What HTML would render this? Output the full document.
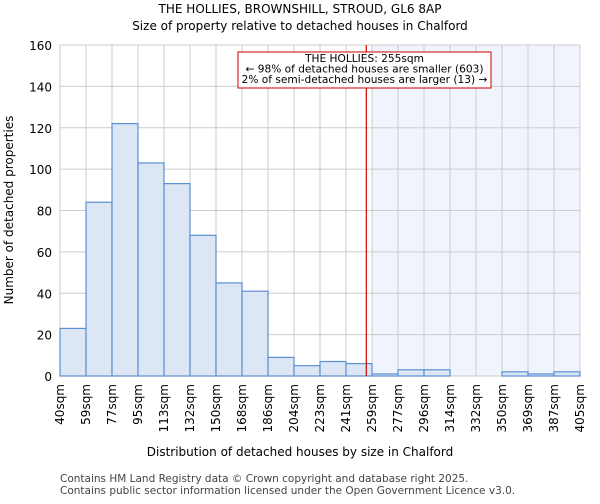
<!DOCTYPE html>
<html><head><meta charset="utf-8"><style>
body{margin:0;background:#fff;font-family:"DejaVu Sans","Liberation Sans",sans-serif;}
</style></head><body>
<svg id="chart" width="600" height="500" xmlns="http://www.w3.org/2000/svg">
<text x="300" y="13" text-anchor="middle" font-size="12">THE HOLLIES, BROWNSHILL, STROUD, GL6 8AP</text>
<text x="300" y="30" text-anchor="middle" font-size="12">Size of property relative to detached houses in Chalford</text>
<g id="plot"></g>
<text x="300" y="456" text-anchor="middle" font-size="12">Distribution of detached houses by size in Chalford</text>
<text transform="translate(13,210) rotate(-90)" text-anchor="middle" font-size="12">Number of detached properties</text>
<text x="60" y="482" font-size="10.5" fill="#444">Contains HM Land Registry data © Crown copyright and database right 2025.</text>
<text x="60" y="494" font-size="10.5" fill="#444">Contains public sector information licensed under the Open Government Licence v3.0.</text>
</svg>
<script>
const categories=["40sqm","59sqm","77sqm","95sqm","113sqm","132sqm","150sqm","168sqm","186sqm","204sqm","223sqm","241sqm","259sqm","277sqm","296sqm","314sqm","332sqm","350sqm","369sqm","387sqm","405sqm"];
const counts=[23,84,122,103,93,68,45,41,9,5,7,6,1,3,3,0,0,2,1,2];
const yTicks=[0,20,40,60,80,100,120,140,160];
const binStart=40, binWidth=18.25, propertySize=255;
const X0=60,X1=580,Y0=376,Y1=45,ns="http://www.w3.org/2000/svg";
const g=document.getElementById('plot');
const bw=(X1-X0)/counts.length;
const xi=i=>X0+i*bw;
const xv=v=>X0+(v-binStart)/binWidth*bw;
const y=v=>Y0-(v/160)*(Y0-Y1);
function mk(t,a){const e=document.createElementNS(ns,t);for(const k in a)e.setAttribute(k,a[k]);g.appendChild(e);return e;}
const hi=Math.ceil((propertySize-binStart)/binWidth);
let e=mk('rect',{x:xi(hi),y:Y1,width:X1-xi(hi),height:Y0-Y1,fill:'#f0f4fc'});


for(let i=0;i<=counts.length;i++){e=mk('line',{x1:xi(i),x2:xi(i),y1:Y1,y2:Y0,stroke:'#ccc'});

}
yTicks.forEach(t=>{e=mk('line',{x1:X0,x2:X1,y1:y(t),y2:y(t),stroke:'#ccc'});


e=mk('text',{x:X0-8,y:y(t)+5,'text-anchor':'end','font-size':'12'});e.textContent=t;

});
counts.forEach((c,i)=>{e=mk('rect',{x:xi(i),y:y(c),width:bw,height:Y0-y(c),fill:'#dce6f4',stroke:'#5b8fd4','stroke-width':1.2});

});
categories.forEach((c,i)=>{e=mk('text',{transform:`translate(${xi(i)+4},384) rotate(-90)`,'text-anchor':'end','font-size':'12'});e.textContent=c;

});
e=mk('line',{x1:xv(propertySize),x2:xv(propertySize),y1:Y1,y2:Y0,stroke:'#cc0000','stroke-width':1.2});


e=mk('rect',{x:238,y:52,width:253,height:36,fill:'#fff',stroke:'#cc0000'});


["THE HOLLIES: 255sqm","← 98% of detached houses are smaller (603)","2% of semi-detached houses are larger (13) →"].forEach((s,i)=>{
e=mk('text',{x:364.5,y:62+i*10.5,'text-anchor':'middle','font-size':'10.6'});e.textContent=s;

});
</script>
</body></html>
